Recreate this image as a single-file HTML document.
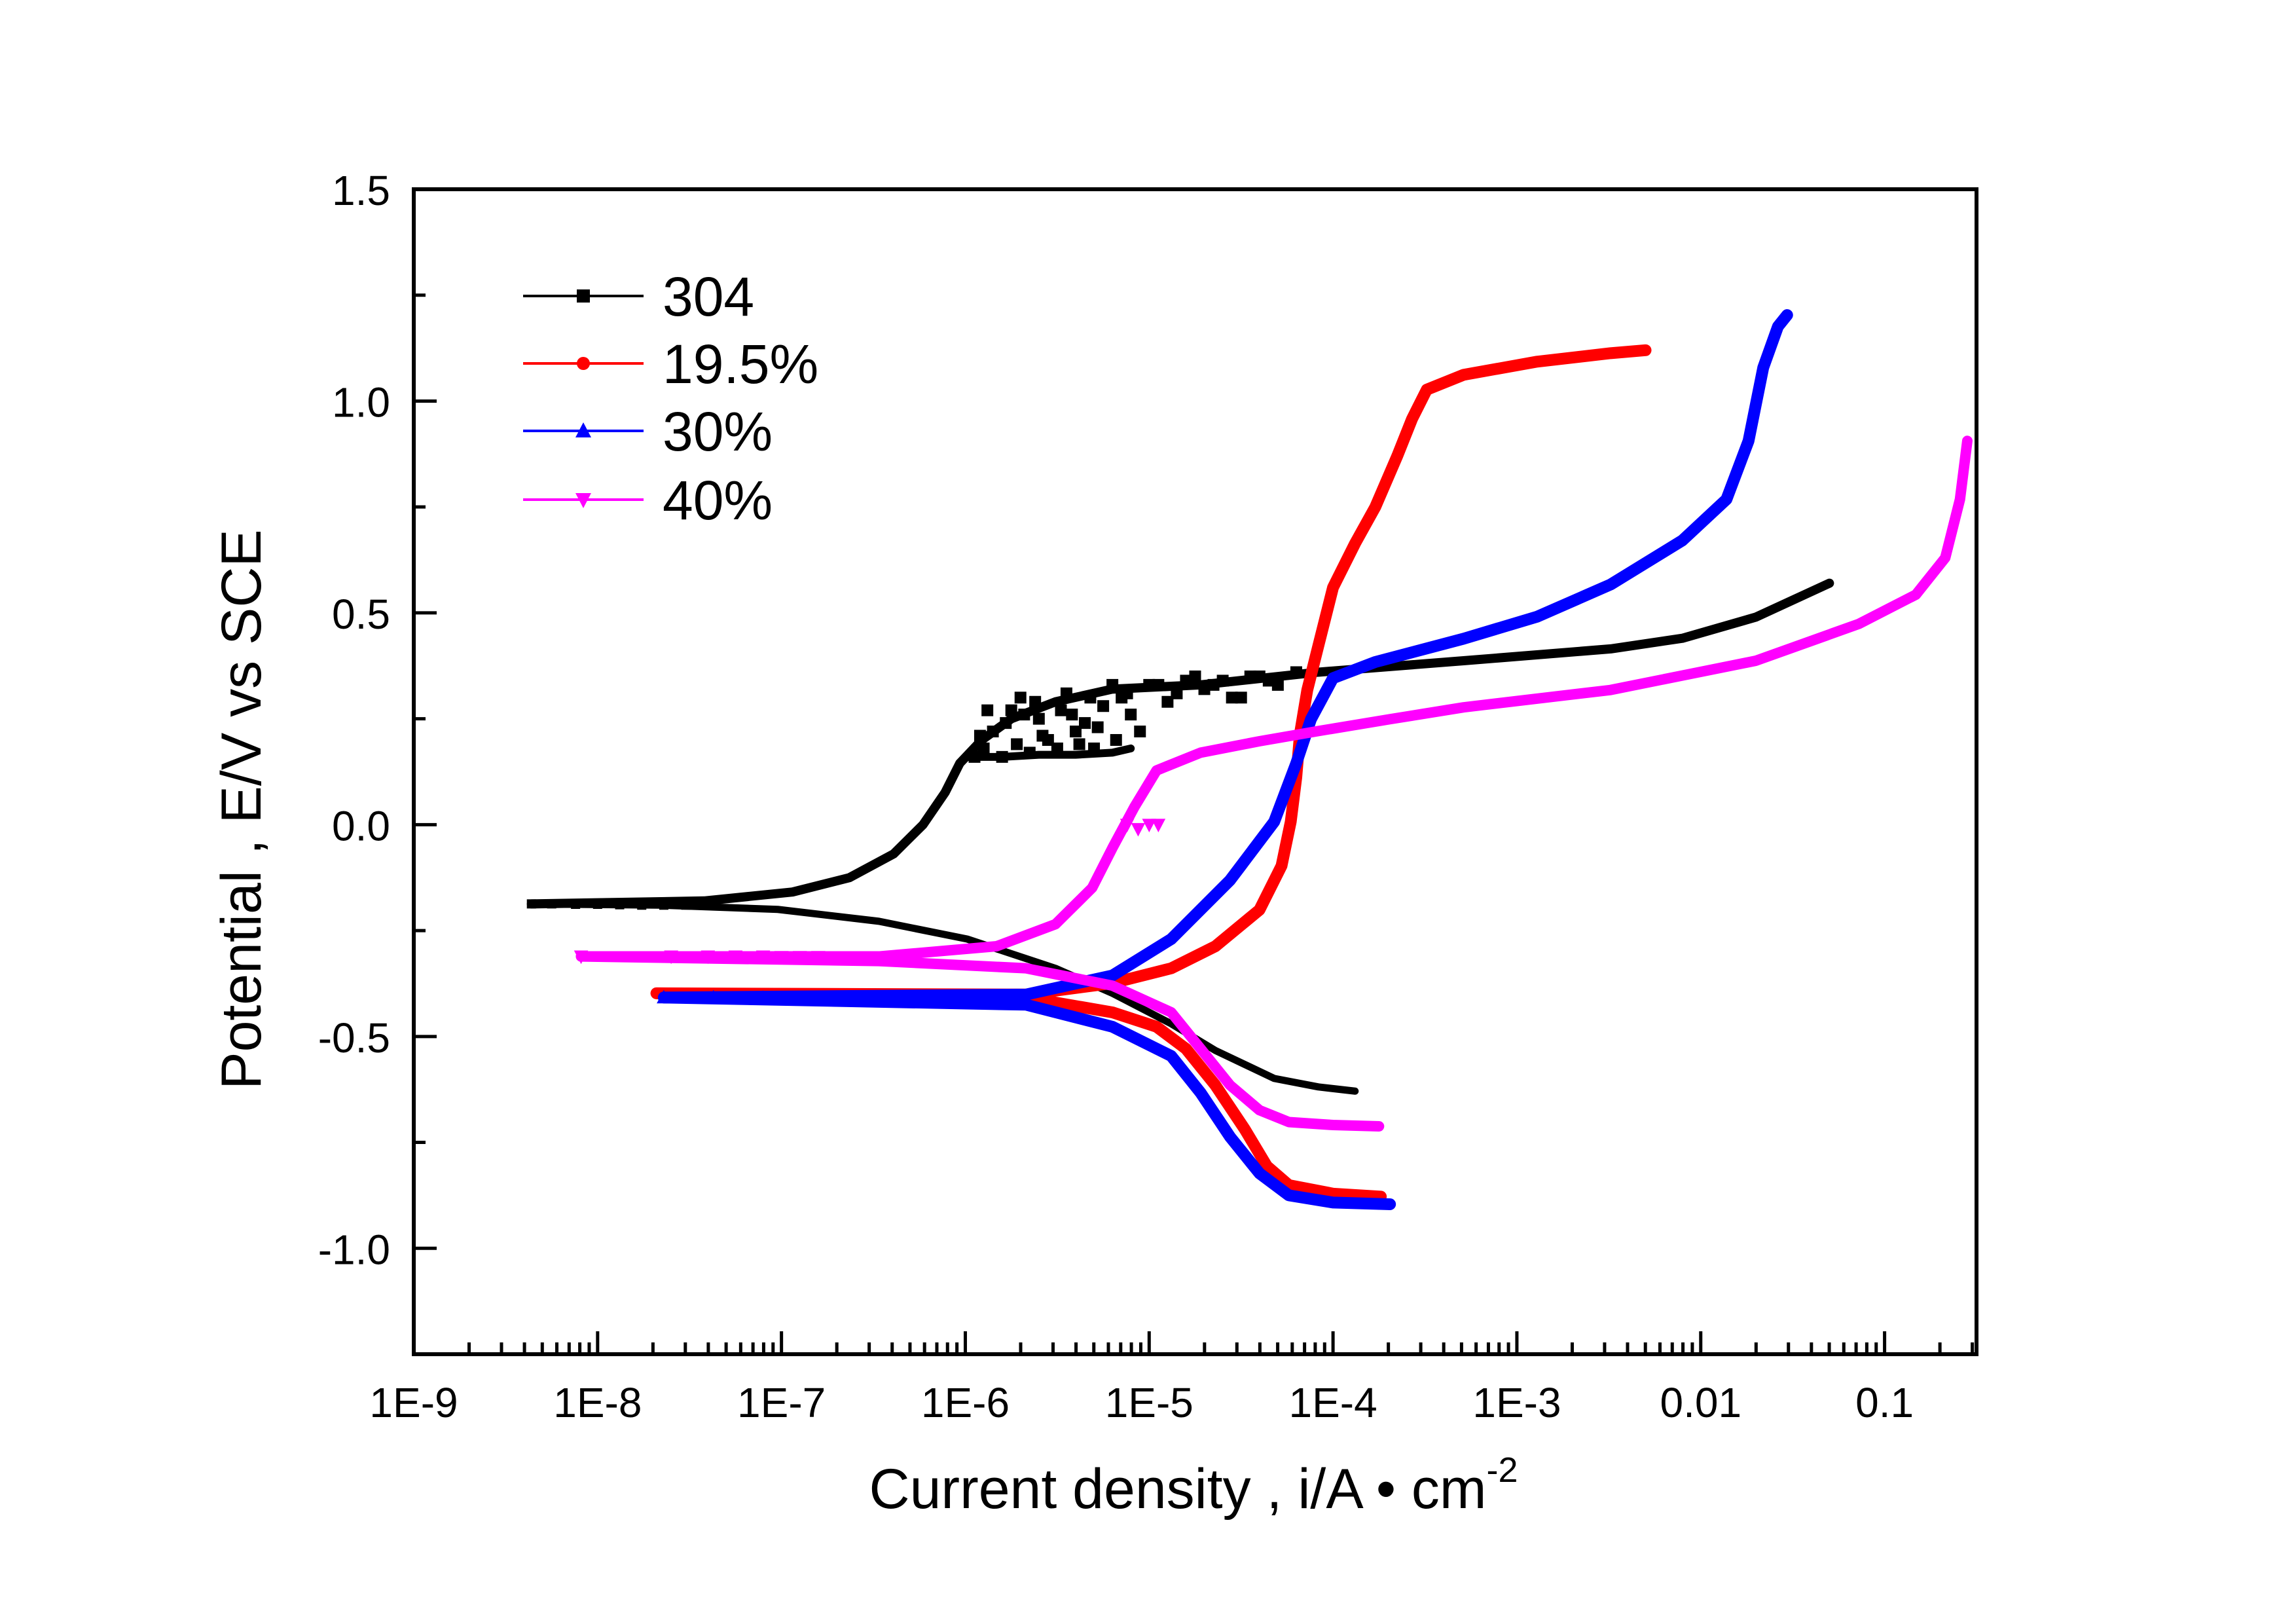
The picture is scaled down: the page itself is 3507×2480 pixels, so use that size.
<!DOCTYPE html>
<html><head><meta charset="utf-8"><style>
html,body{margin:0;padding:0;background:#fff}
svg{display:block}
text{font-family:"Liberation Sans",sans-serif;fill:#000}
</style></head><body>
<svg id="chart" width="3507" height="2480" viewBox="0 0 3507 2480" xmlns="http://www.w3.org/2000/svg">
<g id="plot"></g>
</svg>
<script>
// ---- data (log10 current density, potential V) ----
const xTickLabels = ["1E-9","1E-8","1E-7","1E-6","1E-5","1E-4","1E-3","0.01","0.1"];
const yTickValues = [-1.0,-0.5,0.0,0.5,1.0,1.5];
const yTickLabels = ["-1.0","-0.5","0.0","0.5","1.0","1.5"];

const s304CathLog = [-8.36,-7.66,-7.02,-6.47,-5.99,-5.51,-5.20,-4.88,-4.64,-4.32,-4.08,-3.88];
const s304CathE   = [-0.187,-0.190,-0.200,-0.228,-0.270,-0.339,-0.398,-0.470,-0.533,-0.599,-0.619,-0.629];
const s304AnLog = [-8.36,-7.42,-6.94,-6.63,-6.39,-6.23,-6.11,-6.03,-5.91,-5.75,-5.51,-5.20,-4.72,-4.08,-3.29,-2.49,-2.10,-1.70,-1.30];
const s304AnE   = [-0.187,-0.180,-0.159,-0.125,-0.069,0.0,0.076,0.145,0.20,0.25,0.29,0.32,0.33,0.36,0.387,0.415,0.44,0.49,0.57];
const s304LowLog = [-6.0,-5.8,-5.6,-5.4,-5.2,-5.1];
const s304LowE   = [0.16,0.16,0.165,0.165,0.17,0.18];
const s304NoiseLog = [-5.95,-5.9,-5.85,-5.8,-5.75,-5.7,-5.65,-5.6,-5.5,-5.45,-5.4,-5.3,-5.25,-5.2,-5.1,-5.0,-4.9,-4.8,-4.7,-4.6,-4.5,-4.4,-4.3,-4.2,-5.55,-5.35,-5.15,-5.05,-4.95,-4.85,-4.75,-4.65,-4.55,-4.45,-4.35,-5.92,-5.78,-5.68,-5.58,-5.48,-5.38,-5.28,-5.18,-5.62,-5.42,-5.32,-5.72,-5.88,-5.12];
const s304NoiseE   = [0.16,0.18,0.22,0.16,0.27,0.30,0.17,0.25,0.18,0.31,0.22,0.18,0.28,0.33,0.26,0.33,0.29,0.34,0.32,0.34,0.30,0.35,0.33,0.36,0.20,0.24,0.30,0.22,0.33,0.31,0.35,0.33,0.30,0.35,0.34,0.21,0.24,0.26,0.21,0.27,0.19,0.23,0.20,0.29,0.26,0.30,0.19,0.27,0.31];
const s304MarkLog = [-8.36,-8.25,-8.12,-8.0,-7.88,-7.76,-7.64,-7.52,-7.4];
const s304MarkE   = [-0.187,-0.187,-0.188,-0.188,-0.189,-0.19,-0.19,-0.19,-0.19];

const s195CathLog = [-7.68,-5.67,-5.20,-4.96,-4.80,-4.64,-4.48,-4.36,-4.24,-4.00,-3.74];
const s195CathE   = [-0.398,-0.408,-0.443,-0.477,-0.529,-0.615,-0.719,-0.806,-0.851,-0.871,-0.878];
const s195AnLog = [-7.68,-5.67,-5.20,-4.88,-4.64,-4.40,-4.28,-4.23,-4.20,-4.18,-4.14,-4.08,-4.00,-3.88,-3.77,-3.65,-3.57,-3.49,-3.29,-2.89,-2.49,-2.30];
const s195AnE   = [-0.398,-0.401,-0.374,-0.339,-0.287,-0.201,-0.097,0.007,0.111,0.214,0.318,0.422,0.560,0.664,0.750,0.871,0.958,1.027,1.062,1.093,1.113,1.120];
const s195MarkLog = [-7.68,-7.4,-7.2,-7.0,-6.85,-6.7,-6.6,-6.5,-6.4,-6.3,-6.2];
const s195MarkE   = [-0.398,-0.400,-0.399,-0.400,-0.401,-0.400,-0.401,-0.401,-0.402,-0.402,-0.402];

const s30CathLog = [-7.64,-5.67,-5.20,-4.88,-4.72,-4.56,-4.40,-4.24,-4.00,-3.69];
const s30CathE   = [-0.408,-0.425,-0.477,-0.546,-0.633,-0.737,-0.823,-0.875,-0.892,-0.896];
const s30AnLog = [-7.64,-5.67,-5.20,-4.88,-4.56,-4.32,-4.20,-4.12,-4.00,-3.77,-3.29,-2.89,-2.49,-2.10,-1.86,-1.74,-1.66,-1.58,-1.53];
const s30AnE   = [-0.408,-0.401,-0.356,-0.270,-0.131,0.007,0.145,0.249,0.346,0.384,0.439,0.491,0.567,0.671,0.768,0.906,1.079,1.176,1.203];
const s30MarkLog = [-7.64,-7.37,-7.1,-6.85,-6.65,-6.5];
const s30MarkE   = [-0.408,-0.408,-0.409,-0.410,-0.410,-0.411];

const s40CathLog = [-8.09,-6.47,-5.67,-5.20,-4.88,-4.72,-4.56,-4.40,-4.24,-4.00,-3.75];
const s40CathE   = [-0.311,-0.322,-0.339,-0.380,-0.443,-0.529,-0.615,-0.674,-0.702,-0.709,-0.712];
const s40AnLog = [-8.09,-6.47,-5.83,-5.51,-5.31,-5.20,-5.08,-4.96,-4.72,-4.40,-4.08,-3.69,-3.29,-2.49,-1.70,-1.14,-0.83,-0.67,-0.59,-0.55];
const s40AnE   = [-0.311,-0.311,-0.287,-0.235,-0.149,-0.055,0.042,0.128,0.170,0.197,0.221,0.249,0.277,0.318,0.387,0.474,0.543,0.630,0.768,0.906];
const s40KneeLog = [-5.12,-5.06,-5.0,-4.95];
const s40KneeE   = [0.0,-0.01,0.0,0.0];
const s40MarkLog = [-8.09,-7.6,-7.4,-7.25,-7.1,-7.0,-6.9,-6.8];
const s40MarkE   = [-0.311,-0.311,-0.311,-0.311,-0.311,-0.312,-0.312,-0.312];

const seriesNames = ["304","19.5%","30%","40%"];

// ---- layout ----
const L=632,R=3019,T=289,B=2068;
const XMIN=-9,XMAX=-0.5,YMIN=-1.25,YMAX=1.5;
const xs=v=>L+(v-XMIN)/(XMAX-XMIN)*(R-L);
const ys=v=>B-(v-YMIN)/(YMAX-YMIN)*(B-T);
const NS="http://www.w3.org/2000/svg";
const plot=document.getElementById('plot');
function mk(tag,attrs,parent){const e=document.createElementNS(NS,tag);for(const k in attrs)e.setAttribute(k,attrs[k]);(parent||plot).appendChild(e);return e;}

const defs=mk('defs',{});
const cp=mk('clipPath',{id:'clip'},defs);
mk('rect',{x:L,y:T,width:R-L,height:B-T},cp);

// ticks
const ticks=mk('g',{stroke:'#000','stroke-width':5,fill:'none'});


for(let d=-9;d<=-1;d++){
  for(let m=1;m<=9;m++){
    const v=d+Math.log10(m);
    if(v>XMAX)continue;
    const len=m===1?35:18;
    mk('line',{x1:xs(v),y1:B,x2:xs(v),y2:B-len},ticks);
  }
}
for(let k=0;k<xTickLabels.length;k++){
  const t=mk('text',{x:xs(-9+k),y:2164,'font-size':64,'text-anchor':'middle'});
  t.textContent=xTickLabels[k];
  
  
}
for(let v=-1.25;v<=1.5001;v+=0.25){
  const major=Math.abs(v*2-Math.round(v*2))<1e-6;
  mk('line',{x1:L,y1:ys(v),x2:L+(major?35:18),y2:ys(v)},ticks);
}
for(let k=0;k<yTickValues.length;k++){
  const t=mk('text',{x:596,y:ys(yTickValues[k])+24,'font-size':64,'text-anchor':'end'});
  t.textContent=yTickLabels[k];
  
  
}

// series
const curves=mk('g',{'clip-path':'url(#clip)'});


function line(lx,ey,color,w,name){
  const p=mk('polyline',{points:lx.map((v,i)=>xs(v)+','+ys(ey[i])).join(' '),fill:'none',stroke:color,'stroke-width':w,'stroke-linejoin':'round','stroke-linecap':'round'},curves);
  
  
}
function marker(type,cx,cy,color,sz,parent){
  let e;
  if(type==='square')e=mk('rect',{x:cx-sz,y:cy-sz,width:2*sz,height:2*sz,fill:color},parent);
  else if(type==='circle')e=mk('circle',{cx:cx,cy:cy,r:sz,fill:color},parent);
  else if(type==='up')e=mk('polygon',{points:`${cx},${cy-sz*1.3} ${cx-sz*1.2},${cy+sz} ${cx+sz*1.2},${cy+sz}`,fill:color},parent);
  else e=mk('polygon',{points:`${cx},${cy+sz*1.3} ${cx-sz*1.2},${cy-sz} ${cx+sz*1.2},${cy-sz}`,fill:color},parent);
  return e;
}
function markers(lx,ey,type,color,sz,name){
  for(let i=0;i<lx.length;i++){
    const m=marker(type,xs(lx[i]),ys(ey[i]),color,sz,curves);
    
    
  }
}
// 304
line(s304CathLog,s304CathE,'#000',11,'series-304-cathodic');
line(s304AnLog,s304AnE,'#000',14,'series-304-anodic');
line(s304LowLog,s304LowE,'#000',12,'series-304-lower-band');
line(s304MarkLog,s304MarkE,'#000',3,'series-304-thin');
markers(s304MarkLog,s304MarkE,'square','#000',7,'series-304-marker');
markers(s304NoiseLog,s304NoiseE,'square','#000',9,'series-304-noise-marker');
// 19.5
line(s195CathLog,s195CathE,'#f00',18,'series-19-5-cathodic');
line(s195AnLog,s195AnE,'#f00',18,'series-19-5-anodic');
markers(s195MarkLog,s195MarkE,'circle','#f00',8,'series-19-5-marker');
// 30
line(s30CathLog,s30CathE,'#00f',18,'series-30-cathodic');
line(s30AnLog,s30AnE,'#00f',18,'series-30-anodic');
markers(s30MarkLog,s30MarkE,'up','#00f',9,'series-30-marker');
// 40
line(s40CathLog,s40CathE,'#f0f',16,'series-40-cathodic');
line(s40AnLog,s40AnE,'#f0f',16,'series-40-anodic');
markers(s40KneeLog,s40KneeE,'down','#f0f',9,'series-40-knee-marker');
markers(s40MarkLog,s40MarkE,'down','#f0f',9,'series-40-marker');

// frame
const fr=mk('rect',{x:L,y:T,width:R-L,height:B-T,fill:'none',stroke:'#000','stroke-width':6});



// legend
const legColors=['#000','#f00','#00f','#f0f'];
const legTypes=['square','circle','up','down'];
const legY=[452,555,658,763];
const leg=mk('g',{});


for(let k=0;k<4;k++){
  const g=mk('g',{},leg);
  
  
  mk('line',{x1:799,y1:legY[k],x2:983,y2:legY[k],stroke:legColors[k],'stroke-width':4},g);
  marker(legTypes[k],891,legY[k],legColors[k],10,g);
  const t=mk('text',{x:1012,y:legY[k]+30,'font-size':84},g);
  t.textContent=seriesNames[k];
}

// titles
const xt=mk('text',{x:1823,y:2303,'font-size':86,'text-anchor':'middle'});


xt.innerHTML='Current density , i/A \u2022 cm<tspan dy="-40" font-size="54">-2</tspan>';
const yt=mk('text',{x:0,y:0,'font-size':86,'text-anchor':'middle',transform:'translate(398,1236) rotate(-90)'});


yt.textContent='Potential , E/V vs SCE';
</script>
</body></html>
